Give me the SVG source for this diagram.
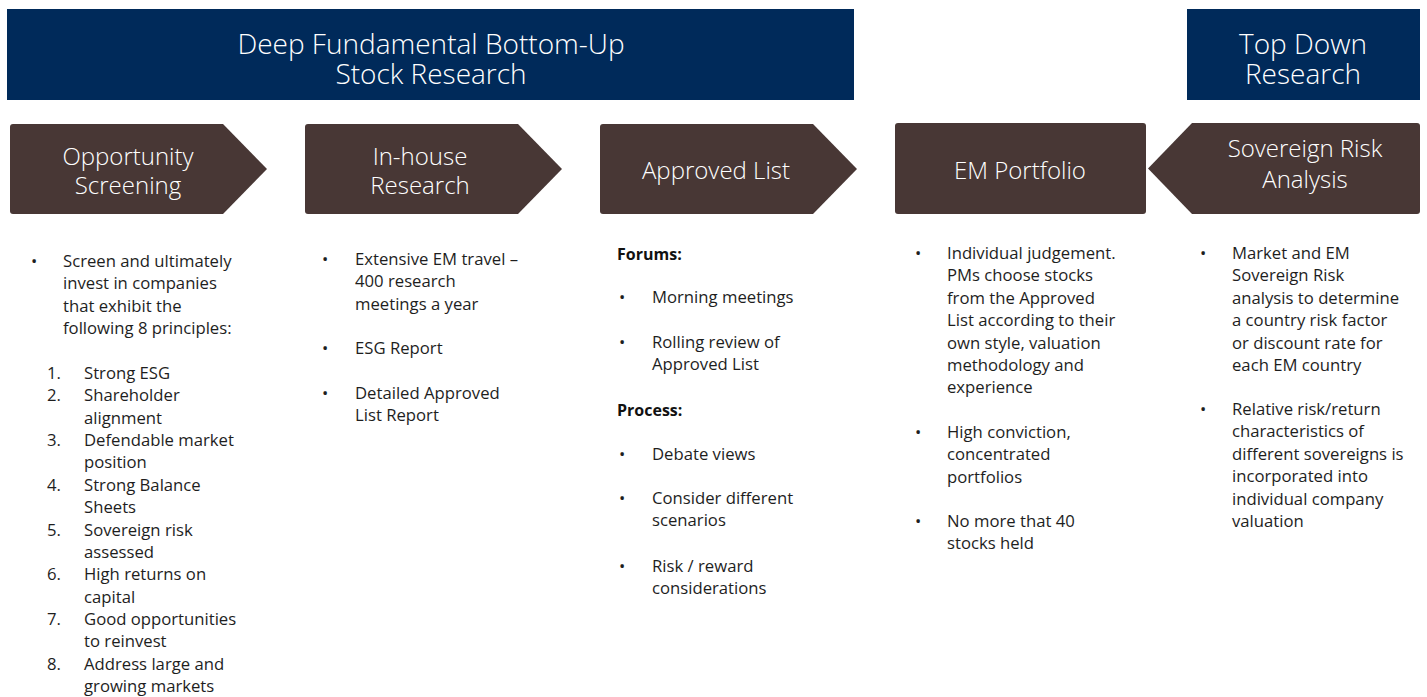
<svg xmlns="http://www.w3.org/2000/svg" width="1427" height="697" viewBox="0 0 1427 697">
<style>
.hdr{fill:#002a5a}
.box{fill:#483735}
.ht{font-family:"Open Sans","Noto Sans",sans-serif;font-weight:300;font-size:28px;fill:#fff;text-anchor:middle}
.bt{font-family:"Open Sans","Noto Sans",sans-serif;font-weight:300;font-size:24px;fill:#fff;text-anchor:middle}
.tx{font-family:"Open Sans","Noto Sans",sans-serif;font-size:16.7px;fill:#1e1e1e}
.hd{font-family:"Open Sans","Noto Sans",sans-serif;font-size:16px;font-weight:bold;fill:#111}
</style>
<rect width="1427" height="697" fill="#fff"/>
<g id="header-bottomup">
<rect class="hdr" x="7" y="9" width="847" height="91"/>
<text class="ht" x="431" y="54">Deep Fundamental Bottom-Up</text>
<text class="ht" x="431" y="84">Stock Research</text>
</g>
<g id="header-topdown">
<rect class="hdr" x="1187" y="9" width="233" height="91"/>
<text class="ht" x="1303" y="54">Top Down</text>
<text class="ht" x="1303" y="84">Research</text>
</g>
<g id="connectors"></g>
<g id="node-opportunity">
<path class="box" d="M13,124 H223 L267,169 L223,214 H13 Q10,214 10,211 V127 Q10,124 13,124 Z"/>
<text class="bt" x="128" y="165">Opportunity</text>
<text class="bt" x="128" y="194">Screening</text>
</g>
<g id="node-inhouse">
<path class="box" d="M308,124 H518 L562,169 L518,214 H308 Q305,214 305,211 V127 Q305,124 308,124 Z"/>
<text class="bt" x="420" y="165">In-house</text>
<text class="bt" x="420" y="194">Research</text>
</g>
<g id="node-approved">
<path class="box" d="M603,124 H813 L857,169 L813,214 H603 Q600,214 600,211 V127 Q600,124 603,124 Z"/>
<text class="bt" x="716" y="179">Approved List</text>
</g>
<g id="node-portfolio">
<rect class="box" x="895" y="123" width="251" height="91" rx="3"/>
<text class="bt" x="1020" y="179">EM Portfolio</text>
</g>
<g id="node-sovereign">
<path class="box" d="M1192,123 H1417 Q1420,123 1420,126 V211 Q1420,214 1417,214 H1192 L1148,168.5 Z"/>
<text class="bt" x="1305" y="157">Sovereign Risk</text>
<text class="bt" x="1305" y="188">Analysis</text>
</g>
<g id="text-opportunity" class="tx">
<text x="31" y="267">•</text>
<text x="63" y="267">Screen and ultimately</text>
<text x="63" y="289.4">invest in companies</text>
<text x="63" y="311.8">that exhibit the</text>
<text x="63" y="334.2">following 8 principles:</text>
<text x="47" y="379">1.</text><text x="84" y="379">Strong ESG</text>
<text x="47" y="401.4">2.</text><text x="84" y="401.4">Shareholder</text>
<text x="84" y="423.7">alignment</text>
<text x="47" y="446.1">3.</text><text x="84" y="446.1">Defendable market</text>
<text x="84" y="468.4">position</text>
<text x="47" y="490.8">4.</text><text x="84" y="490.8">Strong Balance</text>
<text x="84" y="513.2">Sheets</text>
<text x="47" y="535.5">5.</text><text x="84" y="535.5">Sovereign risk</text>
<text x="84" y="557.9">assessed</text>
<text x="47" y="580.2">6.</text><text x="84" y="580.2">High returns on</text>
<text x="84" y="602.6">capital</text>
<text x="47" y="625">7.</text><text x="84" y="625">Good opportunities</text>
<text x="84" y="647.3">to reinvest</text>
<text x="47" y="669.7">8.</text><text x="84" y="669.7">Address large and</text>
<text x="84" y="692">growing markets</text>
</g>
<g id="text-inhouse" class="tx">
<text x="322" y="265">•</text>
<text x="355" y="265">Extensive EM travel –</text>
<text x="355" y="287.4">400 research</text>
<text x="355" y="309.8">meetings a year</text>
<text x="322" y="353.5">•</text>
<text x="355" y="353.5">ESG Report</text>
<text x="322" y="398.5">•</text>
<text x="355" y="398.5">Detailed Approved</text>
<text x="355" y="420.9">List Report</text>
</g>
<g id="text-approved" class="tx">
<text class="hd" x="617" y="260">Forums:</text>
<text x="619" y="303">•</text>
<text x="652" y="303">Morning meetings</text>
<text x="619" y="348">•</text>
<text x="652" y="348">Rolling review of</text>
<text x="652" y="370.4">Approved List</text>
<text class="hd" x="617" y="416">Process:</text>
<text x="619" y="460">•</text>
<text x="652" y="460">Debate views</text>
<text x="619" y="504">•</text>
<text x="652" y="504">Consider different</text>
<text x="652" y="526.4">scenarios</text>
<text x="619" y="572">•</text>
<text x="652" y="572">Risk / reward</text>
<text x="652" y="594.4">considerations</text>
</g>
<g id="text-portfolio" class="tx">
<text x="915" y="259">•</text>
<text x="947" y="259">Individual judgement.</text>
<text x="947" y="281.4">PMs choose stocks</text>
<text x="947" y="303.8">from the Approved</text>
<text x="947" y="326.2">List according to their</text>
<text x="947" y="348.6">own style, valuation</text>
<text x="947" y="371">methodology and</text>
<text x="947" y="393.4">experience</text>
<text x="915" y="438">•</text>
<text x="947" y="438">High conviction,</text>
<text x="947" y="460.4">concentrated</text>
<text x="947" y="482.8">portfolios</text>
<text x="915" y="527">•</text>
<text x="947" y="527">No more that 40</text>
<text x="947" y="549.4">stocks held</text>
</g>
<g id="text-sovereign" class="tx">
<text x="1200" y="259">•</text>
<text x="1232" y="259">Market and EM</text>
<text x="1232" y="281.4">Sovereign Risk</text>
<text x="1232" y="303.8">analysis to determine</text>
<text x="1232" y="326.2">a country risk factor</text>
<text x="1232" y="348.6">or discount rate for</text>
<text x="1232" y="371">each EM country</text>
<text x="1200" y="415">•</text>
<text x="1232" y="415">Relative risk/return</text>
<text x="1232" y="437.4">characteristics of</text>
<text x="1232" y="459.8">different sovereigns is</text>
<text x="1232" y="482.2">incorporated into</text>
<text x="1232" y="504.6">individual company</text>
<text x="1232" y="527">valuation</text>
</g>
</svg>
